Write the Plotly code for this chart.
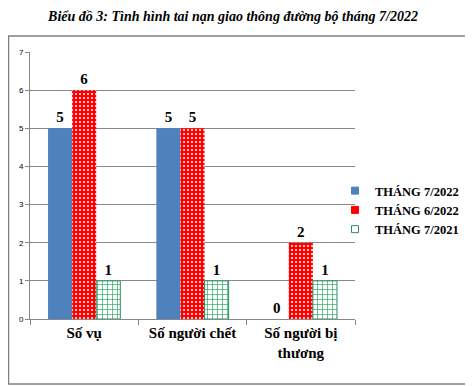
import plotly.graph_objects as go

categories = ["Số vụ", "Số người chết", "Số người bị<br>thương"]
series_names = ["THÁNG 7/2022", "THÁNG 6/2022", "THÁNG 7/2021"]
thang_7_2022 = [5, 5, 0]
thang_6_2022 = [6, 5, 2]
thang_7_2021 = [1, 1, 1]
y_ticks = [0, 1, 2, 3, 4, 5, 6, 7]

# page body has an 8px margin: figure drawn 8px in from the window corner
OFF = 8
W, H = 473 - OFF, 386 - OFF
L, T = 30 - OFF, 52 - OFF
R = W - (355 - OFF)
B = H - (319 - OFF)
pw, ph = W - L - R, H - T - B

def px(x):
    return (x - OFF - L) / pw

def py(y):
    return (H - B - (y - OFF)) / ph

lab_font = dict(family="Liberation Serif", size=15, color="black", weight="bold")
edge = ["#4F81BD", "#FF0000", "#2E8B6E"]

fig = go.Figure()
fig.add_trace(go.Bar(
    x=categories, y=thang_7_2022, name=series_names[0], showlegend=False,
    marker=dict(color="#4F81BD", line=dict(width=0)),
    text=thang_7_2022, textposition="outside", textfont=lab_font,
))
fig.add_trace(go.Bar(
    x=categories, y=thang_6_2022, name=series_names[1], showlegend=False,
    marker=dict(color="#FF0000", line=dict(width=0),
                pattern=dict(shape=".", bgcolor="#FF0000", fgcolor="white",
                             size=4, solidity=0.2, fillmode="replace")),
    text=thang_6_2022, textposition="outside", textfont=lab_font,
))
fig.add_trace(go.Bar(
    x=categories, y=thang_7_2021, name=series_names[2], showlegend=False,
    marker=dict(color="white", line=dict(width=1, color=edge[2]),
                pattern=dict(shape="+", bgcolor="white", fgcolor="#1FA85A",
                             size=5, solidity=0.25, fillmode="replace")),
    text=thang_7_2021, textposition="outside", textfont=lab_font,
))

# legend-only entries with small square symbols
for name, c, e in zip(series_names, ["#4F81BD", "#FF0000", "white"], edge):
    fig.add_trace(go.Scatter(
        x=[None], y=[None], mode="markers", name=name,
        marker=dict(symbol="square", size=7, color=c, line=dict(width=1, color=e)),
    ))

fig.update_traces(cliponaxis=False, selector=dict(type="bar"))

fig.update_layout(
    width=W, height=H,
    margin=dict(l=L, r=R, t=T, b=B, autoexpand=False),
    paper_bgcolor="white", plot_bgcolor="white",
    barmode="group", bargap=0.333, bargroupgap=0,
    title=dict(text="Biểu đồ 3: Tình hình tai nạn giao thông đường bộ tháng 7/2022",
               x=(233 - OFF) / W, xanchor="center", y=1 - (16 - OFF) / H, yanchor="middle",
               font=dict(family="Liberation Serif", size=14, color="black",
                         weight="bold", style="italic")),
    xaxis=dict(tickfont=dict(family="Liberation Serif", size=15, color="black", weight="bold"),
               tickson="boundaries", ticks="outside", ticklen=5, tickcolor="#888",
               showline=True, linecolor="#888", linewidth=1, showgrid=False,
               automargin=False),
    yaxis=dict(range=[0, 7], tickvals=y_ticks,
               tickfont=dict(family="Liberation Sans", size=8, color="black"),
               ticks="outside", ticklen=4, tickcolor="#888",
               showline=True, linecolor="#888", linewidth=1,
               showgrid=True, gridcolor="#888", gridwidth=1, zeroline=False,
               automargin=False),
    legend=dict(x=px(335), y=py(210), xanchor="left", yanchor="middle",
                font=dict(family="Liberation Serif", size=12.5, color="black", weight="bold"),
                itemwidth=30, tracegroupgap=0, bgcolor="rgba(0,0,0,0)"),
    showlegend=True,
    shapes=[dict(type="rect", xref="paper", yref="paper",
                 x0=px(8.5), x1=px(471), y0=py(384), y1=py(36),
                 line=dict(color="#808080", width=1.5), fillcolor="rgba(0,0,0,0)", layer="below")],
)

fig.write_html("out.html")
